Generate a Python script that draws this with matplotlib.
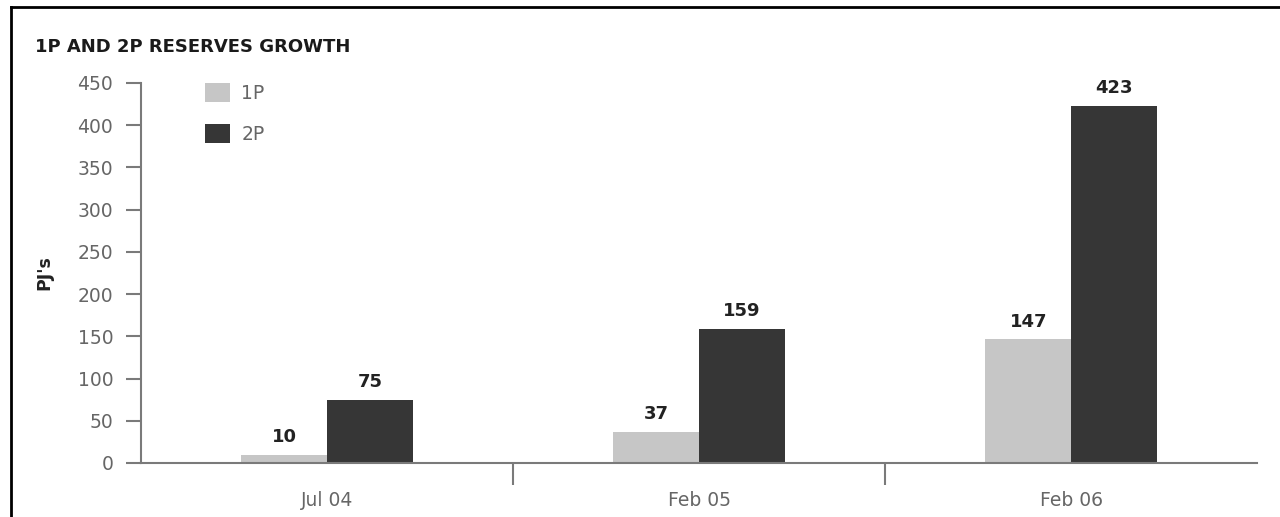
import matplotlib
matplotlib.use("Agg")
import matplotlib.pyplot as plt
from matplotlib.lines import Line2D
import numpy as np

plt.rcParams['font.family'] = ['DejaVu Sans']

categories = ["Jul 04", "Feb 05", "Feb 06"]
series_names = ["1P", "2P"]
values_1p = [10, 37, 147]
values_2p = [75, 159, 423]
yticks = [0, 50, 100, 150, 200, 250, 300, 350, 400, 450]

W, H = 1280, 517
fig = plt.figure(figsize=(W / 100, H / 100), dpi=100)
ax = fig.add_axes([141 / W, (H - 463) / H, 1116 / W, 380 / H])

grey = "#7a7a7a"
label_grey = "#666666"
c1, c2 = "#c6c6c6", "#363636"

x = np.arange(len(categories))
w = 0.23
b1 = ax.bar(x - w / 2, values_1p, w, color=c1, label=series_names[0], linewidth=0)
b2 = ax.bar(x + w / 2, values_2p, w, color=c2, label=series_names[1], linewidth=0)

for bars, vals in ((b1, values_1p), (b2, values_2p)):
    for r, v in zip(bars, vals):
        ax.annotate(str(v), (r.get_x() + r.get_width() / 2, v), xytext=(0, 6),
                    textcoords="offset points", ha="center", va="bottom",
                    fontsize=13, fontweight="bold", color="#222222")

ax.set_xlim(-0.5, len(categories) - 0.5)
ax.set_ylim(0, 450)
ax.set_yticks(yticks)
ax.set_xticks(x)
ax.set_xticklabels(categories)
ax.set_xticks(np.arange(0.5, len(categories) - 0.5, 1.0), minor=True)

for s in ("top", "right"):
    ax.spines[s].set_visible(False)
for s in ("left", "bottom"):
    ax.spines[s].set_color(grey)
    ax.spines[s].set_linewidth(1.5)

ax.tick_params(axis="y", direction="out", length=11, width=1.5, color=grey,
               labelsize=13.5, labelcolor=label_grey, pad=9)
ax.tick_params(axis="x", which="major", length=0, labelsize=13.5,
               labelcolor=label_grey, pad=20)
ax.tick_params(axis="x", which="minor", direction="out", length=16, width=1.5,
               color=grey)

ax.set_ylabel("PJ's", fontsize=12.5, fontweight="bold", color="#222222", labelpad=14)
ax.yaxis.set_label_coords(-(141 - 44) / 1116, 0.5)
ax.yaxis.label.set_va("center")

leg = ax.legend(loc="upper left", bbox_to_anchor=(0.057, 1.0), frameon=False,
                fontsize=13.5, handlelength=1.35, handleheight=1.15, labelspacing=1.15,
                borderpad=0, borderaxespad=0, handletextpad=0.6)
for t in leg.get_texts():
    t.set_color(label_grey)

fig.text(35 / W, 1 - 47 / H, "1P AND 2P RESERVES GROWTH", fontsize=13,
         fontweight="bold", color="#1a1a1a", ha="left", va="center")

# outer frame (left and top edges visible)
fig.add_artist(Line2D([10.5 / W, 10.5 / W], [0, 1 - 7 / H], transform=fig.transFigure,
                      color="black", linewidth=2))
fig.add_artist(Line2D([10.5 / W, 1], [1 - 7 / H, 1 - 7 / H], transform=fig.transFigure,
                      color="black", linewidth=2))

fig.savefig("out.png", dpi=100)
